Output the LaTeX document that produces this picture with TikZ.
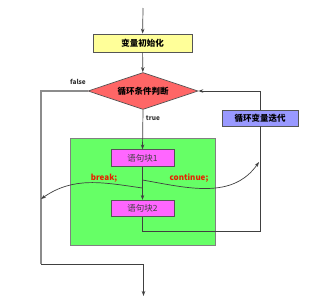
\documentclass[tikz,border=0pt]{standalone}
\usepackage{fontspec}
\setmainfont{Noto Sans CJK SC}
\usetikzlibrary{shapes.geometric,arrows.meta}
\definecolor{lineg}{HTML}{404040}
\definecolor{boxline}{HTML}{555555}
\definecolor{yel}{HTML}{FFFF99}
\definecolor{dred}{HTML}{FF6666}
\definecolor{grn}{HTML}{66FF66}
\definecolor{mag}{HTML}{FF66FF}
\definecolor{purp}{HTML}{9999FF}
\definecolor{lbl}{HTML}{E82000}
\tikzset{
  conn/.style={draw=lineg, line width=0.7pt, -{Stealth[length=5pt,width=3.5pt]}},
  plain/.style={draw=lineg, line width=0.7pt},
  grayline/.style={draw=gray!90, line width=1.1pt},
  boxbase/.style={draw=boxline, line width=0.7pt, inner sep=0pt, font=\fontsize{8.5}{10}\selectfont},
  initbox/.style={boxbase, fill=yel, minimum width=99pt, minimum height=18pt, font=\fontsize{8.5}{10}\selectfont\bfseries},
  condbox/.style={boxbase, diamond, aspect=3, fill=dred, minimum width=110pt, minimum height=37pt, font=\fontsize{8.5}{10}\selectfont\bfseries},
  iterbox/.style={boxbase, fill=purp, minimum width=76pt, minimum height=16pt, font=\fontsize{8.5}{10}\selectfont\bfseries},
  blk/.style={boxbase, fill=mag, minimum width=63pt, minimum height=16.5pt, text=black!75},
  greenbox/.style={draw=gray, line width=0.8pt, fill=grn, inner sep=0pt, minimum width=145pt, minimum height=107pt},
  small/.style={font=\fontsize{6.5}{8}\selectfont\bfseries, text=black!80},
  redlbl/.style={font=\fontsize{8}{10}\selectfont\bfseries, text=lbl}
}
\begin{document}
\begin{tikzpicture}[x=1pt,y=-1pt]
\useasboundingbox (0,0) rectangle (312,303);
\node[greenbox] (green) at (142.5,191.5) {};
\coordinate (top) at (143,8);
\node[initbox] (init) at (142.5,43) {变量初始化};
\node[condbox] (cond) at (143,91) {循环条件判断};
\node[iterbox] (iter) at (260,118) {循环变量迭代};
\node[blk] (b1) at (142.5,158) {语句块1};
\node[blk] (b2) at (142.5,208.5) {语句块2};
\coordinate (L1) at (41,264);
\coordinate (endpt) at (143.5,296);
\coordinate (r1) at (142.5,231);
\coordinate (bk) at (142.5,188);
\coordinate (bkend) at (41,199);
\coordinate (ct) at (142.5,180);
\coordinate (ctend) at (259,162);
\node[small] (falselbl) at (78,82) {false};
\node[small] (truelbl) at (153,118) {true};
\node[redlbl] (breaklbl) at (104,178) {break;};
\node[redlbl] (contlbl) at (189,178) {continue;};
% connectors
\draw[conn] (top) -- (init);
\draw[conn] (init) -- (cond);
\draw[grayline] (cond.west) -| (L1);
\draw[conn] (L1) -| (endpt);
\draw[conn] (cond.south) -- (b1.north);
\draw[conn] (b1) -- (b2);
\draw[plain] (b2.south) -- (r1) -| (iter.south);
\draw[conn, line width=0.9pt] (iter.north) |- (cond.east);
\draw[conn] (bk) to[out=172,in=35] (bkend);
\draw[conn] (ct) to[out=-10,in=235] (ctend);
\end{tikzpicture}
\end{document}
